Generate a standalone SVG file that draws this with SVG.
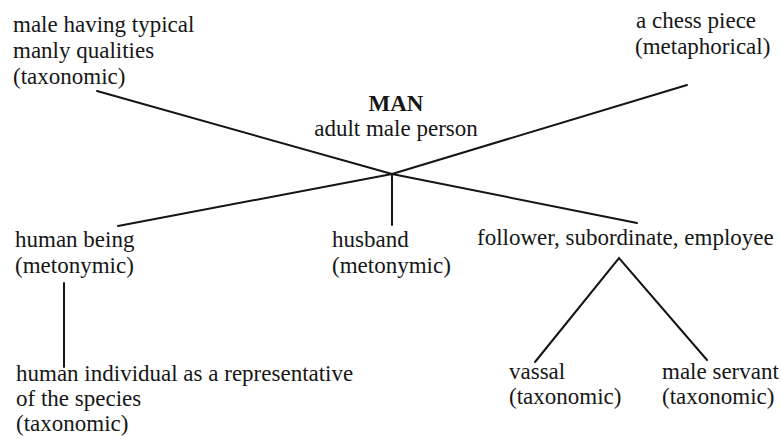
<svg xmlns="http://www.w3.org/2000/svg" width="781" height="439" viewBox="0 0 781 439">
<style>
text { font-family: "Liberation Serif", "Times New Roman", serif; font-size: 23px; fill: #161616; }
.b { font-weight: bold; }
.m { text-anchor: middle; }
.c line, .c polyline { stroke: #141414; stroke-width: 2; fill: none; stroke-linecap: round; }
</style>
<rect width="781" height="439" fill="#ffffff"/>
<g class="c" id="connectors">
<line x1="97" y1="91" x2="392" y2="174"/>
<line x1="392" y1="174" x2="637" y2="223"/>
<line x1="687" y1="85" x2="392" y2="174"/>
<line x1="392" y1="174" x2="118" y2="226"/>
<line x1="392" y1="174" x2="392" y2="225"/>
<line x1="64" y1="283" x2="64" y2="367"/>
<polyline points="535,362 619,258 707,360"/>
</g>
<g id="man">
<text class="b m" x="396" y="111">MAN</text>
<text class="m" x="396" y="136">adult male person</text>
</g>
<g id="manly">
<text x="13" y="32">male having typical</text>
<text x="13" y="58">manly qualities</text>
<text x="13" y="84">(taxonomic)</text>
</g>
<g id="chess">
<text x="636" y="28">a chess piece</text>
<text x="635" y="54">(metaphorical)</text>
</g>
<g id="human-being">
<text x="15" y="247">human being</text>
<text x="15" y="273">(metonymic)</text>
</g>
<g id="husband">
<text x="332" y="247">husband</text>
<text x="332" y="273">(metonymic)</text>
</g>
<g id="follower">
<text x="477" y="245">follower, subordinate, employee</text>
</g>
<g id="individual">
<text x="16" y="381">human individual as a representative</text>
<text x="16" y="406">of the species</text>
<text x="16" y="431">(taxonomic)</text>
</g>
<g id="vassal">
<text x="509" y="379">vassal</text>
<text x="509" y="404">(taxonomic)</text>
</g>
<g id="servant">
<text x="662" y="379">male servant</text>
<text x="662" y="404">(taxonomic)</text>
</g>
</svg>
